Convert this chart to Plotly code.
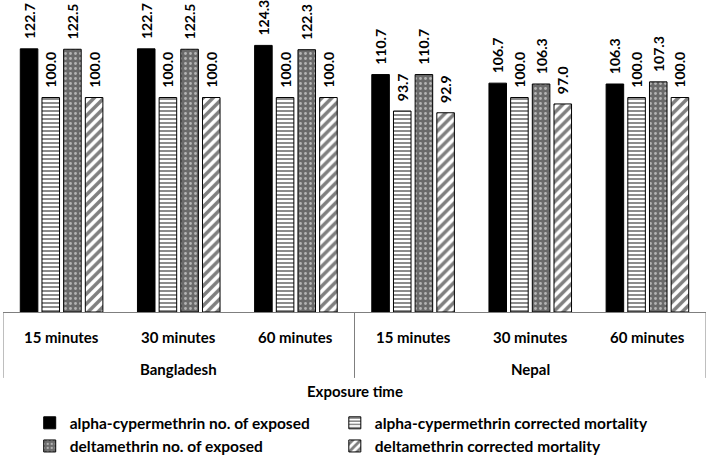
import plotly.graph_objects as go

countries = ["Bangladesh", "Nepal"]
times = ["15 minutes", "30 minutes", "60 minutes"]
groups = [f"{c} {t}" for c in countries for t in times]

alpha_exposed = [122.7, 122.7, 124.3, 110.7, 106.7, 106.3]
alpha_mortality = [100.0, 100.0, 100.0, 93.7, 100.0, 100.0]
delta_exposed = [122.5, 122.5, 122.3, 110.7, 106.3, 107.3]
delta_mortality = [100.0, 100.0, 100.0, 92.9, 97.0, 100.0]

series_names = [
    "alpha-cypermethrin no. of exposed",
    "alpha-cypermethrin corrected mortality",
    "deltamethrin no. of exposed",
    "deltamethrin corrected mortality",
]

FONT = "Lato"
BOLD = dict(family=FONT, color="black", weight="bold")
fig = go.Figure()

styles = [
    dict(color="black", pattern=None, legend="legend"),
    dict(color="white", pattern=dict(shape="-", fgcolor="black", bgcolor="white", size=4, solidity=0.45), legend="legend2"),
    dict(color="#6e6e6e", pattern=dict(shape=".", fgcolor="white", bgcolor="#6a6a6a", size=5, solidity=0.25), legend="legend"),
    dict(color="white", pattern=dict(shape="/", fgcolor="black", bgcolor="white", size=7, solidity=0.5), legend="legend2"),
]

for name, vals, st in zip(series_names, [alpha_exposed, alpha_mortality, delta_exposed, delta_mortality], styles):
    marker = dict(color=st["color"], line=dict(color="black", width=1))
    if st["pattern"]:
        marker["pattern"] = st["pattern"]
    fig.add_trace(go.Bar(
        x=groups, y=vals, name=name, marker=marker, legend=st["legend"],
        text=["\u00a0\u00a0" + f"{v:.1f}" for v in vals], textposition="outside", textangle=-90,
        constraintext="none",
        textfont=dict(size=14, **BOLD),
        cliponaxis=False,
    ))

annotations = []
for g, t in zip(groups, times * 2):
    annotations.append(dict(x=g, y=-0.080, xref="x", yref="paper", text=t, showarrow=False,
                            font=dict(size=15, **BOLD), yanchor="middle"))
for i, c in enumerate(countries):
    annotations.append(dict(x=1 + 3 * i, y=-0.183, xref="x", yref="paper", text=c, showarrow=False,
                            font=dict(size=15, **BOLD), yanchor="middle"))
annotations.append(dict(x=0.5, y=-0.254, xref="paper", yref="paper", text="Exposure time", showarrow=False,
                        font=dict(size=15, **BOLD), yanchor="middle"))

shapes = []
for xd in [-0.5, 2.5, 5.5]:
    shapes.append(dict(type="line", x0=xd, x1=xd, xref="x", y0=0, y1=-0.212, yref="paper",
                       line=dict(color="#7f7f7f", width=1)))

legend_common = dict(orientation="v", yanchor="top", y=-0.303, xanchor="left", tracegroupgap=0,
                     font=dict(size=15.5, **BOLD), itemwidth=30, bgcolor="rgba(0,0,0,0)")

fig.update_layout(
    width=709, height=465,
    margin=dict(l=3, r=3, t=1, b=153),
    plot_bgcolor="white", paper_bgcolor="white",
    barmode="group", bargap=0.26, bargroupgap=0.19,
    font=dict(size=15, **BOLD),
    showlegend=True,
    legend=dict(x=0.038, **legend_common),
    legend2=dict(x=0.472, **legend_common),
    xaxis=dict(
        type="category", showline=True, linecolor="#7f7f7f", linewidth=1,
        showticklabels=False, ticks="", automargin=False, range=[-0.5, 5.5],
    ),
    yaxis=dict(range=[0, 145], visible=False, showgrid=False, zeroline=False, automargin=False),
    annotations=annotations,
    shapes=shapes,
)

fig.write_html("out.html", config={"displayModeBar": False},
               post_script="document.body.style.margin='0';document.body.style.overflow='hidden';")
